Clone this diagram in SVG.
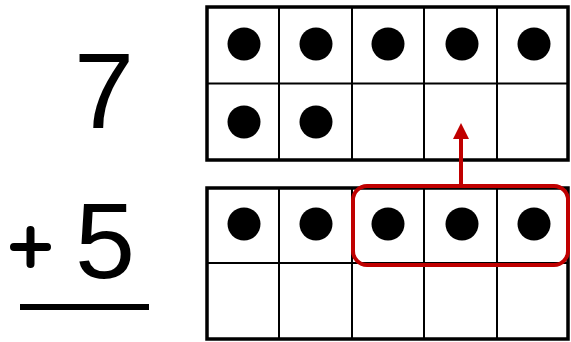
<svg xmlns="http://www.w3.org/2000/svg" width="571" height="342" viewBox="0 0 571 342">
<style>
.frame{fill:#fff;stroke:#000;stroke-width:3.5}
.grid{stroke:#000;stroke-width:2;fill:none}
.dot{fill:#000}
.num{font-family:"Liberation Sans","DejaVu Sans",sans-serif;font-size:108px;fill:#000}
.red{fill:none;stroke:#C00000;stroke-width:4}
</style>
<defs>
<marker id="ah" markerWidth="4" markerHeight="4" refX="2" refY="2" orient="auto" markerUnits="strokeWidth">
<path d="M0,0 L4,2 L0,4 Z" fill="#C00000"/>
</marker>
</defs>
<rect width="571" height="342" fill="#fff"/>
<g id="equation">
<text class="num" x="104" y="128" text-anchor="middle">7</text>
<text class="num" x="105" y="278" text-anchor="middle">5</text>
<path d="M14,247 H47 M30.5,230 V264" stroke="#000" stroke-width="8" stroke-linecap="round"/>
<line x1="20" y1="307" x2="149" y2="307" stroke="#000" stroke-width="6"/>
</g>
<g id="frame-top">
<rect class="frame" x="207" y="7" width="361" height="153"/>
<path class="grid" d="M279,7 V160 M352,7 V160 M424,7 V160 M497,7 V160 M207,83.5 H568"/>
<circle class="dot" cx="244" cy="44" r="16.5"/>
<circle class="dot" cx="316" cy="44" r="16.5"/>
<circle class="dot" cx="388" cy="44" r="16.5"/>
<circle class="dot" cx="462" cy="44" r="16.5"/>
<circle class="dot" cx="534" cy="44" r="16.5"/>
<circle class="dot" cx="244" cy="122" r="16.5"/>
<circle class="dot" cx="316" cy="122" r="16.5"/>
</g>
<g id="frame-bottom">
<rect class="frame" x="207" y="188" width="361" height="151"/>
<path class="grid" d="M279,188 V339 M352,188 V339 M424,188 V339 M497,188 V339 M207,263 H568"/>
<circle class="dot" cx="244" cy="224" r="16.5"/>
<circle class="dot" cx="316" cy="224" r="16.5"/>
<circle class="dot" cx="388" cy="224" r="16.5"/>
<circle class="dot" cx="462" cy="224" r="16.5"/>
<circle class="dot" cx="534" cy="224" r="16.5"/>
</g>
<g id="group-highlight">
<rect class="red" x="353" y="186" width="215" height="79" rx="14"/>
</g>
<g id="connectors">
<line x1="461" y1="184" x2="461" y2="131" stroke="#C00000" stroke-width="4" marker-end="url(#ah)"/>
</g>
</svg>
